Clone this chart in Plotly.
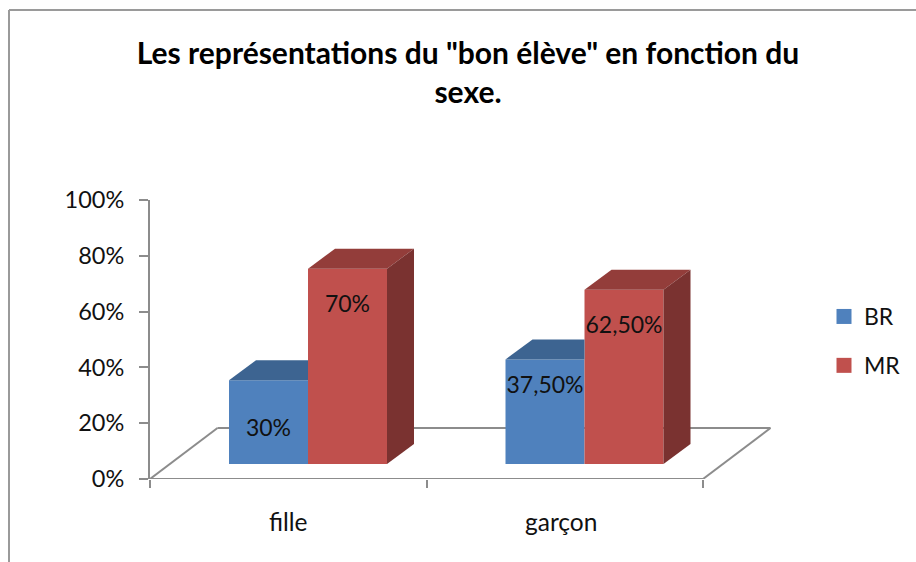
import plotly.graph_objects as go

TITLE = 'Les représentations du "bon élève" en fonction du<br>sexe.'
categories = ["fille", "garçon"]
series_names = ["BR", "MR"]
br_values = [30, 37.5]
mr_values = [70, 62.5]
br_labels = ["30%", "37,50%"]
mr_labels = ["70%", "62,50%"]
y_ticks = [0, 20, 40, 60, 80, 100]
y_tick_text = ["0%", "20%", "40%", "60%", "80%", "100%"]
category_label_pos = [0.5, 1.487]

# chart geometry (figure pixels)
W, H = 916, 562
PX_L, PX_R, PX_T, PX_B = 150, 790, 200, 479
PX_PER_CAT = 276.5
PX_PER_PCT = (PX_B - PX_T) / 100
def xu(px): return px / PX_PER_CAT
def yu(px): return px / PX_PER_PCT

BAR_W = 2 / 7
BAR_SHIFT = BAR_W / 4          # bars sit forward in the 3-D box, right of the category centre
BASE = yu(15)
DX, DY = xu(27), yu(20)
FX, FY = xu(67.5), yu(51)
FLOOR_R = len(categories)

BLUE, RED = "#4F81BD", "#C0504D"
BLUE_TOP, RED_TOP, RED_SIDE = "#3D6491", "#933D3A", "#7A3230"
GREY = "#8C8C8C"
FONT = "Lato, Carlito, sans-serif"

# label heights above the bar base (hand placed in the source chart)
br_label_h = [12.2, 27.6]
mr_label_h = [56.6, 49.1]

fig = go.Figure()

centers = [i + 0.5 + BAR_SHIFT for i in range(len(categories))]
br_x = [c - BAR_W / 2 for c in centers]
mr_x = [c + BAR_W / 2 for c in centers]

fig.add_trace(go.Bar(x=br_x, y=br_values, base=BASE, width=BAR_W, marker=dict(color=BLUE, line_width=0),
                     name=series_names[0], showlegend=False, hoverinfo="y"))
fig.add_trace(go.Bar(x=mr_x, y=mr_values, base=BASE, width=BAR_W, marker=dict(color=RED, line_width=0),
                     name=series_names[1], showlegend=False, hoverinfo="y"))

def poly(xs, ys, color):
    fig.add_trace(go.Scatter(x=xs + xs[:1], y=ys + ys[:1], mode="lines", fill="toself", fillcolor=color,
                             line=dict(width=0, color=color), showlegend=False, hoverinfo="skip"))

for cx, b, m in zip(centers, br_values, mr_values):
    # blue top, cut where the taller red bar hides it
    l, r = cx - BAR_W, cx
    t = BASE + b
    poly([l, l + DX, r, r], [t, t + DY, t + DY, t], BLUE_TOP)
    # red top and side
    l, r = cx, cx + BAR_W
    t = BASE + m
    poly([l, l + DX, r + DX, r], [t, t + DY, t + DY, t], RED_TOP)
    poly([r, r + DX, r + DX, r], [BASE, BASE + DY, t + DY, t], RED_SIDE)

# data labels
fig.add_trace(go.Scatter(x=br_x, y=[BASE + h for h in br_label_h], mode="text", text=br_labels,
                         textfont=dict(family=FONT, size=23, color="#111"), showlegend=False, hoverinfo="skip"))
fig.add_trace(go.Scatter(x=mr_x, y=[BASE + h for h in mr_label_h], mode="text", text=mr_labels,
                         textfont=dict(family=FONT, size=23, color="#111"), showlegend=False, hoverinfo="skip"))

# legend entries
for name, color in zip(series_names, [BLUE, RED]):
    fig.add_trace(go.Scatter(x=[None], y=[None], mode="markers", name=name, legendgroup=name,
                             marker=dict(symbol="square", size=15, color=color)))

# floor of the 3-D box, beneath the bars
floor = dict(type="line", xref="x", yref="y", layer="below", line=dict(color=GREY, width=2))
fig.add_shape(x0=0, y0=0, x1=FX, y1=FY, **floor)
fig.add_shape(x0=FX, y0=FY, x1=FLOOR_R + FX, y1=FY, **floor)
fig.add_shape(x0=FLOOR_R + FX, y0=FY, x1=FLOOR_R, y1=0, **floor)
fig.add_shape(x0=0, y0=0, x1=FLOOR_R, y1=0, **floor)

# outer chart frame (open at the right and bottom edges of the picture)
frame = dict(type="line", xref="paper", yref="paper", line=dict(color="#9A9A9A", width=2))
def xp(px): return (px - PX_L) / (PX_R - PX_L)
def yp(px): return (PX_B - px) / (PX_B - PX_T)
fig.add_shape(x0=xp(9), y0=yp(10), x1=xp(9), y1=yp(H), **frame)
fig.add_shape(x0=xp(9), y0=yp(10), x1=xp(W), y1=yp(10), **frame)

fig.update_layout(
    width=W, height=H, autosize=False,
    margin=dict(l=PX_L, r=W - PX_R, t=PX_T, b=H - PX_B, pad=0),
    paper_bgcolor="white", plot_bgcolor="white",
    font=dict(family=FONT, size=23, color="#111"),
    barmode="overlay",
    title=dict(text="<b>" + TITLE + "</b>", x=468 / W, xanchor="center", y=1 - 64 / H, yanchor="top",
               yref="container", pad=dict(t=0, b=0),
               font=dict(family=FONT, size=30, color="#000")),
    legend=dict(xref="container", yref="container", x=824 / W, xanchor="left", y=1 - 295 / H, yanchor="top",
                tracegroupgap=16, font=dict(family=FONT, size=23, color="#111"), bgcolor="rgba(0,0,0,0)"),
    xaxis=dict(range=[0, (PX_R - PX_L) / PX_PER_CAT], tickmode="array", tickvals=category_label_pos, ticktext=categories,
               ticks="", showline=False, showgrid=False, zeroline=False, ticklabelstandoff=26,
               tickfont=dict(family=FONT, size=24.5, color="#111"),
               minor=dict(tickmode="array", tickvals=list(range(len(categories) + 1)), ticks="outside", ticklen=8,
                          tickwidth=2, tickcolor=GREY, showgrid=False)),
    yaxis=dict(range=[0, 100], tickmode="array", tickvals=y_ticks, ticktext=y_tick_text,
               ticks="outside", ticklen=9, tickwidth=2, tickcolor=GREY, showline=True, linewidth=2, linecolor=GREY,
               showgrid=False, zeroline=False, ticklabelstandoff=10, tickfont=dict(family=FONT, size=23.5, color="#111")),
)

fig.write_html("out.html", config={"displayModeBar": False},
               post_script="document.body.style.margin='0';document.body.style.overflow='hidden';")
